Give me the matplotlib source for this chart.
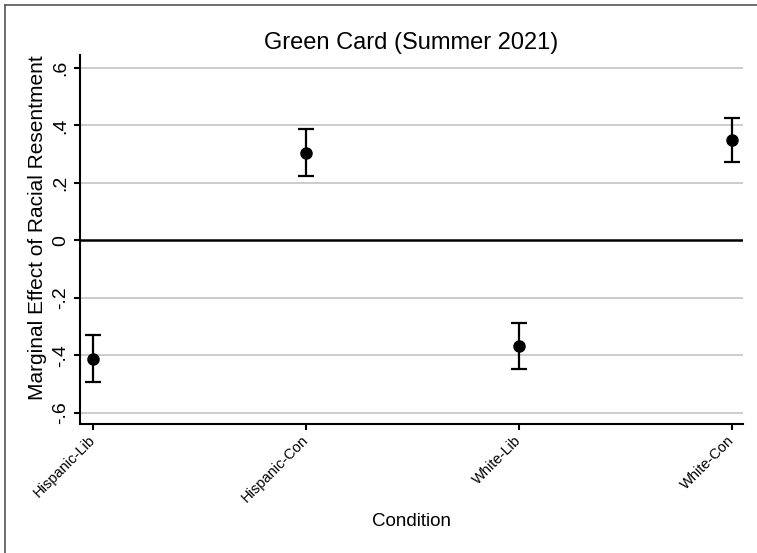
import matplotlib.pyplot as plt
from matplotlib.lines import Line2D

plt.rcParams['font.family'] = ['Liberation Sans', 'DejaVu Sans']

conditions = ["Hispanic-Lib", "Hispanic-Con", "White-Lib", "White-Con"]
estimates = [-0.413, 0.305, -0.369, 0.349]
ci_low = [-0.495, 0.223, -0.450, 0.272]
ci_high = [-0.330, 0.389, -0.288, 0.427]

y_ticks = [-0.6, -0.4, -0.2, 0, 0.2, 0.4, 0.6]
y_tick_labels = ["-.6", "-.4", "-.2", "0", ".2", ".4", ".6"]

fig = plt.figure(figsize=(7.57, 5.53), dpi=100)
W, H = 757, 553
ax = fig.add_axes([80 / W, 1 - 424 / H, (743 - 80) / W, (424 - 55) / H])

x = list(range(1, len(conditions) + 1))
yerr = [[e - lo for e, lo in zip(estimates, ci_low)],
        [hi - e for e, hi in zip(estimates, ci_high)]]

# grid + zero line
for yt in y_ticks:
    if yt == 0:
        ax.axhline(0, color='black', linewidth=1.8, zorder=1)
    else:
        ax.axhline(yt, color='#c8c8c8', linewidth=1.3, zorder=0)

ax.errorbar(x, estimates, yerr=yerr, fmt='o', color='black', markersize=8,
            elinewidth=1.6, capsize=5.5, capthick=1.6, zorder=3)

ax.set_xlim(0.94, 4.053)
ax.set_ylim(-0.64, 0.645)
ax.set_yticks(y_ticks)
ax.set_yticklabels(y_tick_labels, rotation=90, va='center')
ax.set_xticks(x)
ax.set_xticklabels(conditions, rotation=45, ha='right', va='center',
                   rotation_mode='anchor', fontsize=10.5)

for s in ['top', 'right']:
    ax.spines[s].set_visible(False)
for s in ['left', 'bottom']:
    ax.spines[s].set_linewidth(1.5)
ax.tick_params(axis='both', width=1.5, length=4, color='black')
ax.tick_params(axis='y', labelsize=14, pad=4)
ax.tick_params(axis='x', pad=6)

ax.set_title("Green Card (Summer 2021)", fontsize=17, pad=4)
ax.set_ylabel("Marginal Effect of Racial Resentment", fontsize=15)
ax.yaxis.set_label_coords(-0.05, 0.531)
ax.set_xlabel("Condition", fontsize=13.5, labelpad=6)

# outer frame (left and top edges)
fig.add_artist(Line2D([5 / W, 5 / W], [0, 1 - 5 / H], transform=fig.transFigure,
                      color='#555555', linewidth=1.2))
fig.add_artist(Line2D([5 / W, 1], [1 - 5 / H, 1 - 5 / H], transform=fig.transFigure,
                      color='#555555', linewidth=1.2))

plt.savefig('out.png', dpi=100)
plt.close()
